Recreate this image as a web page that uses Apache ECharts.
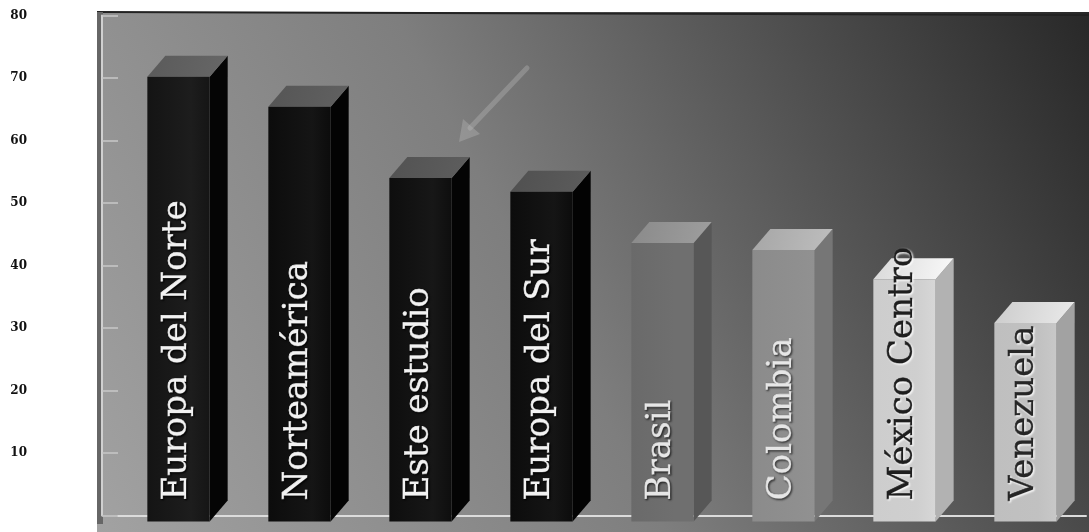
<!DOCTYPE html>
<html>
<head>
<meta charset="utf-8">
<script src="https://cdn.jsdelivr.net/npm/echarts@6/dist/echarts.min.js"></script>
<style>html,body{margin:0;padding:0;background:#fff;}#c{width:1089px;height:532px;}</style>
</head>
<body>
<div id="c"></div>
<script>
const categories = ['Europa del Norte', 'Norteamérica', 'Este estudio', 'Europa del Sur', 'Brasil', 'Colombia', 'México Centro', 'Venezuela'];
const values = [70.2, 65.4, 54.0, 51.8, 43.6, 42.5, 37.8, 30.8];
const yMin = 0, yMax = 80, yStep = 10;
const frontColors = ['#141414', '#0c0c0c', '#0e0e0e', '#0c0c0c', '#6a6a6a', '#8b8b8b', '#cdcdcd', '#bfbfbf'];
const sideColors  = ['#050505', '#030303', '#040404', '#030303', '#575757', '#767676', '#b2b2b2', '#a2a2a2'];
const topColors   = ['#5a5a5a', '#555555', '#525252', '#505050', '#8a8a8a', '#a6a6a6', '#d9d9d9', '#cccccc'];
const textColors  = ['#f2f2f2', '#f2f2f2', '#f2f2f2', '#f2f2f2', '#e6e6e6', '#e6e6e6', '#1e1e1e', '#262626'];
const shadowColors= ['#000000', '#000000', '#000000', '#000000', '#222222', '#333333', '#ffffff', '#ffffff'];

const chart = echarts.init(document.getElementById('c'), null, {renderer: 'canvas'});

const option = {
  animation: false,
  backgroundColor: '#ffffff',
  graphic: [
    {
      type: 'rect', z: -10, silent: true,
      shape: {x: 97, y: 12, width: 992, height: 520},
      style: {
        fill: {type: 'linear', x: 0, y: 1, x2: 1, y2: 0, colorStops: [
          {offset: 0, color: '#a2a2a2'}, {offset: 0.45, color: '#7e7e7e'}, {offset: 1, color: '#282828'}
        ]}
      }
    },
    {
      type: 'line', z: -9, silent: true,
      shape: {x1: 97, y1: 12, x2: 1089, y2: 15},
      style: {stroke: '#222', lineWidth: 2}
    },
    {
      type: 'rect', z: -9, silent: true,
      shape: {x: 97, y: 12, width: 6, height: 512},
      style: {fill: '#666666'}
    },
    {
      type: 'group', z: -8, silent: true,
      children: [
        {type: 'line', shape: {x1: 527, y1: 68, x2: 470, y2: 128}, style: {stroke: 'rgba(190,190,190,0.35)', lineWidth: 5, lineCap: 'round'}},
        {type: 'polygon', shape: {points: [[459, 142], [463, 119], [480, 134]]}, style: {fill: 'rgba(190,190,190,0.35)'}}
      ]
    }
  ],
  grid: {left: 118, right: 3, top: 15.5, bottom: 16.5, containLabel: false},
  xAxis: {
    type: 'category', data: categories,
    offset: 8,
    axisLine: {show: true, lineStyle: {color: '#dcdcdc', width: 2}},
    axisTick: {show: false}, axisLabel: {show: false}, splitLine: {show: false}
  },
  yAxis: {
    type: 'value', min: yMin, max: yMax, interval: yStep,
    offset: 16,
    axisLine: {show: true, lineStyle: {color: '#d0d0d0', width: 2}},
    axisTick: {show: true, inside: true, length: 16, lineStyle: {color: '#c8c8c8', width: 1.5}},
    splitLine: {show: false},
    axisLabel: {
      margin: 75, color: '#111111', fontSize: 12, fontWeight: 900,
      fontFamily: 'DejaVu Serif',
      formatter: v => v === 0 ? '' : String(v)
    }
  },
  series: [{
    type: 'custom',
    data: values.map((v, i) => [i, v]),
    encode: {x: 0, y: 1},
    renderItem: function (params, api) {
      const i = api.value(0), v = api.value(1);
      const top = api.coord([i, v]);
      const base = api.coord([i, 0]);
      const bw = api.size([1, 0])[0] * 0.515;
      const x0 = top[0] - bw / 2, x1 = top[0] + bw / 2;
      const yT = top[1], yB = base[1] + 6;
      const dx = 18, dy = -21;
      return {
        type: 'group',
        children: [
          {type: 'polygon', shape: {points: [[x1, yT], [x1 + dx, yT + dy], [x1 + dx, yB + dy], [x1, yB]]},
           style: {fill: sideColors[i]}},
          {type: 'polygon', shape: {points: [[x0, yT], [x0 + dx, yT + dy], [x1 + dx, yT + dy], [x1, yT]]},
           style: {fill: {type: 'linear', x: 0, y: 0, x2: 1, y2: 1, colorStops: [
             {offset: 0, color: topColors[i]}, {offset: 1, color: echarts.color.lift(topColors[i], -0.15)}]}}},
          {type: 'rect', shape: {x: x0, y: yT, width: bw, height: yB - yT},
           style: {fill: {type: 'linear', x: 0, y: 0, x2: 1, y2: 0, colorStops: [
             {offset: 0, color: frontColors[i]}, {offset: 0.7, color: echarts.color.lift(frontColors[i], 0.04)}, {offset: 1, color: echarts.color.lift(frontColors[i], -0.05)}]}}},
          {type: 'text', x: top[0] - 1, y: yB - 21, rotation: Math.PI / 2,
           style: {
             text: categories[i], fill: textColors[i],
             stroke: textColors[i], lineWidth: 0.7,
             font: '34px "DejaVu Serif"', align: 'left', verticalAlign: 'middle',
             textShadowColor: shadowColors[i], textShadowBlur: 2, textShadowOffsetX: 1, textShadowOffsetY: 1
           }}
        ]
      };
    }
  }]
};
chart.setOption(option);
</script>
</body>
</html>
